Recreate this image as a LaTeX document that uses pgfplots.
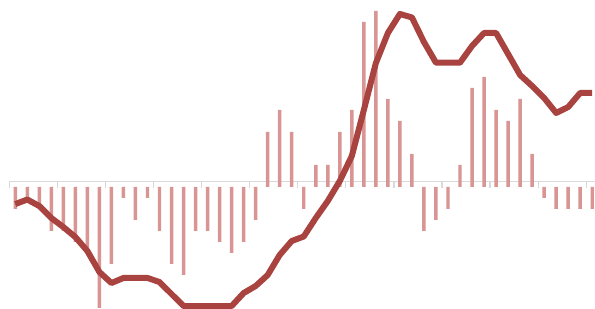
\documentclass[border=0pt]{standalone}
\usepackage{pgfplots}
\pgfplotsset{compat=1.18}
\usepackage{pgfplotstable}
\definecolor{barc}{HTML}{D99494}
\definecolor{linec}{HTML}{A8433F}
\definecolor{axc}{HTML}{D9D9D9}
\pgfplotstableread{
i v
0 -2
1 -1
2 -2
3 -4
4 -4
5 -5
6 -6
7 -11
8 -7
9 -1
10 -3
11 -1
12 -4
13 -7
14 -8
15 -4
16 -4
17 -5
18 -6
19 -5
20 -3
21 5
22 7
23 5
24 -2
25 2
26 2
27 5
28 7
29 15
30 16
31 8
32 6
33 3
34 -4
35 -3
36 -2
37 2
38 9
39 10
40 7
41 6
42 8
43 3
44 -1
45 -2
46 -2
47 -2
48 -2
}\bardata
\pgfplotstableread{
i v
0 -1.55
1 -1.14
2 -1.73
3 -2.82
4 -3.64
5 -4.55
6 -5.82
7 -7.73
8 -8.73
9 -8.27
10 -8.27
11 -8.27
12 -8.64
13 -9.73
14 -10.82
15 -10.82
16 -10.82
17 -10.82
18 -10.82
19 -9.64
20 -9.0
21 -8.0
22 -6.18
23 -4.91
24 -4.5
25 -2.82
26 -1.27
27 0.55
28 2.82
29 7.0
30 11.27
31 14.0
32 15.73
33 15.41
34 13.18
35 11.3
36 11.3
37 11.3
38 12.82
39 14.0
40 14.0
41 12.09
42 10.18
43 9.18
44 8.09
45 6.73
46 7.27
47 8.55
48 8.55
}\linedata
\begin{document}
\begin{tikzpicture}
\begin{axis}[
  scale only axis,
  width=446.25pt, height=231.75pt,
  xmin=-1.27, xmax=48.23,
  ymin=-11.09, ymax=17.0,
  axis lines=none,
  clip=false,
]
\draw[axc, line width=0.9pt] (axis cs:-0.5,0.48) -- (axis cs:48.23,0.48);
\pgfplotsinvokeforeach{-0.5,3.5,7.5,11.5,15.5,19.5,23.5,27.5,31.5,35.5,39.5,43.5,47.5}{
  \draw[axc, line width=0.9pt] (axis cs:#1,0.48) -- (axis cs:#1,-0.06);
}
\addplot[ybar, bar width=2.6pt, bar shift=0pt, fill=barc, draw=none] table[x=i,y=v] {\bardata};
\addplot[linec, line width=4.5pt, line join=round, mark=none] table[x=i,y=v] {\linedata};
\end{axis}
\pgfresetboundingbox
\path (current axis.south west) rectangle (current axis.north east);
\end{tikzpicture}
\end{document}
